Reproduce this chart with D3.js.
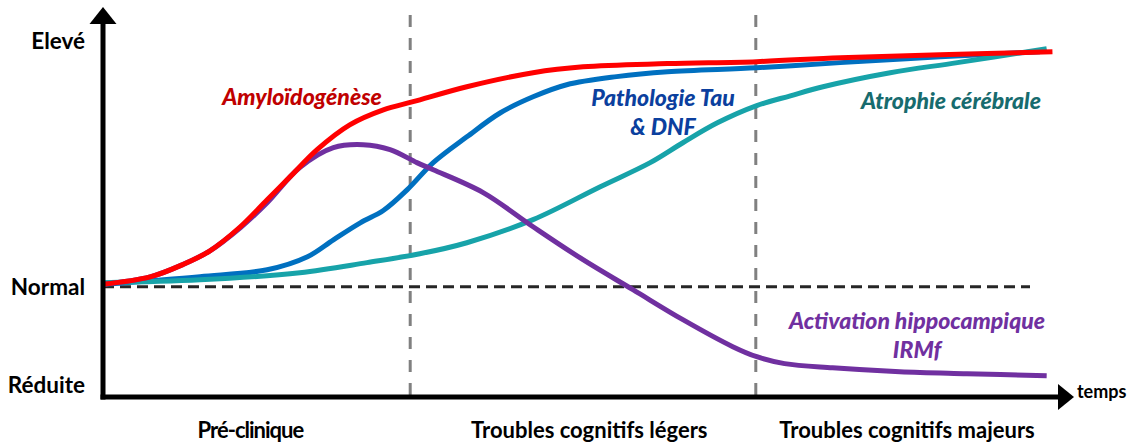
<!DOCTYPE html>
<html>
<head>
<meta charset="utf-8">
<script src="https://cdn.jsdelivr.net/npm/d3@7"></script>
<style>
  body { margin: 0; background: #fff; }
  svg { display: block; }
  .lvl text, .phase text { font-family: Lato, "Open Sans", sans-serif; font-weight: 700; fill: #000; }
  .curve-label { font-family: Lato, "Open Sans", sans-serif; font-weight: 900; font-style: italic; }
</style>
</head>
<body>
<div id="chart-area"></div>
<script>
// time (0-100) / level (Normal = 0, Elevé = 100)
var amyloid = [[0,1],[4.9,4],[8.3,9],[11.1,14.5],[14.3,24.4],[17.1,35.4],[19.5,44.8],[22.3,55.8],
    [25.7,65.9],[29.2,72],[32.3,75.3],[37.9,81.4],[44.8,87.1],[50,89.5],[58.8,90.8],[68.1,91.6],
    [76.8,93.2],[87.2,94.4],[98.9,95.6]];
var tau = [[0,1],[10.1,4.1],[17.1,6.9],[21.3,12.2],[24,19.1],[26.8,26],[29.2,31],[31.7,39.5],
    [34.4,50.5],[37.9,61],[41.4,70.8],[44.8,77.3],[48.3,82.2],[53.5,85.5],[58.8,87.5],[68.1,89.1],
    [76.8,91.2],[87.2,93.6],[97.6,95.6]];
var atrophie = [[0,1.6],[10.1,2.8],[20.5,5.7],[27.5,9.8],[33,13.4],[37.9,17.9],[44.8,27.3],[51.8,40.7],
    [57,50.5],[60.4,58.6],[64,66.7],[68.1,73.7],[71.6,77.7],[75,81.4],[82,87.1],[89,91.2],[98.3,96.9]];
var hippo = [[0,1],[4.9,4],[8.3,9],[11.1,14.5],[14.3,24],[17.1,34.2],[20.5,48.5],[24,56.6],
    [27.1,57.8],[29.9,55.8],[32.7,50.5],[34.4,47.6],[39.6,38.3],[44.8,24.4],[50,11],[55.2,-1.2],
    [60.4,-13.4],[65.6,-24.4],[68.1,-28.5],[71,-31.3],[76,-33],[83,-34.6],[90,-35.4],[98.3,-36.2]];

var levels = ["Elevé", "Normal", "Réduite"];
var levelValues = [100, 0, -40];
var phases = ["Pré-clinique", "Troubles cognitifs légers", "Troubles cognitifs majeurs"];
var phaseCenters = [15.3, 50.6, 83.7];
var phaseLimits = [32, 68];

var width = 1134, height = 445;

var x = d3.scaleLinear().domain([0, 100]).range([103, 1063]);
var y = d3.scaleLinear().domain([-40, 100]).range([385, 41]);

var svg = d3.select("#chart-area").append("svg")
    .attr("width", width)
    .attr("height", height);

// phase separators
svg.selectAll(".sep")
    .data(phaseLimits)
    .enter().append("line")
    .attr("class", "sep")
    .attr("x1", (d) => x(d)).attr("x2", (d) => x(d))
    .attr("y1", 15).attr("y2", 397)
    .attr("stroke", "#808080")
    .attr("stroke-width", 3)
    .attr("stroke-dasharray", "12,11");

// normal level
svg.append("line")
    .attr("x1", x(0)).attr("x2", 1030)
    .attr("y1", y(0)).attr("y2", y(0))
    .attr("stroke", "#262626")
    .attr("stroke-width", 3)
    .attr("stroke-dasharray", "11,6");

var line = d3.line()
    .x((d) => x(d[0]))
    .y((d) => y(d[1]))
    .curve(d3.curveCatmullRom.alpha(0.5));

var series = [
    {data: tau, color: "#0070C0"},
    {data: atrophie, color: "#17A3A9"},
    {data: hippo, color: "#7030A0"},
    {data: amyloid, color: "#FF0000"}
];

svg.selectAll(".curve")
    .data(series)
    .enter().append("path")
    .attr("class", "curve")
    .attr("d", (d) => line(d.data))
    .attr("fill", "none")
    .attr("stroke", (d) => d.color)
    .attr("stroke-width", 5);

// axes
svg.append("line")
    .attr("x1", x(0)).attr("x2", x(0))
    .attr("y1", 22).attr("y2", 399.5)
    .attr("stroke", "#000").attr("stroke-width", 5);
svg.append("path")
    .attr("d", "M" + x(0) + ",7L" + (x(0) + 13.5) + ",24L" + (x(0) - 13.5) + ",24Z")
    .attr("fill", "#000");
svg.append("line")
    .attr("x1", x(0) - 2.5).attr("x2", 1060)
    .attr("y1", 397).attr("y2", 397)
    .attr("stroke", "#000").attr("stroke-width", 5);
svg.append("path")
    .attr("d", "M1074,397L1058,384L1058,410Z")
    .attr("fill", "#000");

var yAxis = d3.axisLeft(y)
    .tickValues(levelValues)
    .tickFormat((d, i) => levels[i])
    .tickSize(0)
    .tickPadding(18);
var yg = svg.append("g")
    .attr("class", "lvl")
    .attr("transform", "translate(" + x(0) + ",0)")
    .call(yAxis);
yg.select(".domain").remove();
yg.selectAll("text").attr("font-size", "22.5px").attr("dy", "0.35em");

var xAxis = d3.axisBottom(x)
    .tickValues(phaseCenters)
    .tickFormat((d, i) => phases[i])
    .tickSize(0)
    .tickPadding(25);
var xg = svg.append("g")
    .attr("class", "phase")
    .attr("transform", "translate(0,397)")
    .call(xAxis);
xg.select(".domain").remove();
xg.selectAll("text")
    .attr("font-size", "22px")
    .attr("letter-spacing", (d, i) => i == 0 ? "-1px" : null);

svg.append("text")
    .attr("x", 1077).attr("y", 398)
    .attr("font-family", "Lato, sans-serif")
    .attr("font-weight", 700)
    .attr("font-size", "18px")
    .text("temps");

// curve labels
var labels = [
    {lines: ["Amyloïdogénèse"], x: 302, y: 105, color: "#C00000"},
    {lines: ["Pathologie Tau", "& DNF"], x: 663, y: 106, color: "#0B3F9E"},
    {lines: ["Atrophie cérébrale"], x: 951, y: 109, color: "#176B6E"},
    {lines: ["Activation hippocampique", "IRMf"], x: 917, y: 329, color: "#7030A0"}
];
labels.forEach((l) => {
    var t = svg.append("text")
        .attr("class", "curve-label")
        .attr("text-anchor", "middle")
        .attr("font-size", "23px")
        .attr("fill", l.color);
    l.lines.forEach((s, i) => {
        t.append("tspan").attr("x", l.x).attr("y", l.y + i * 29).text(s);
    });
});
</script>
</body>
</html>
